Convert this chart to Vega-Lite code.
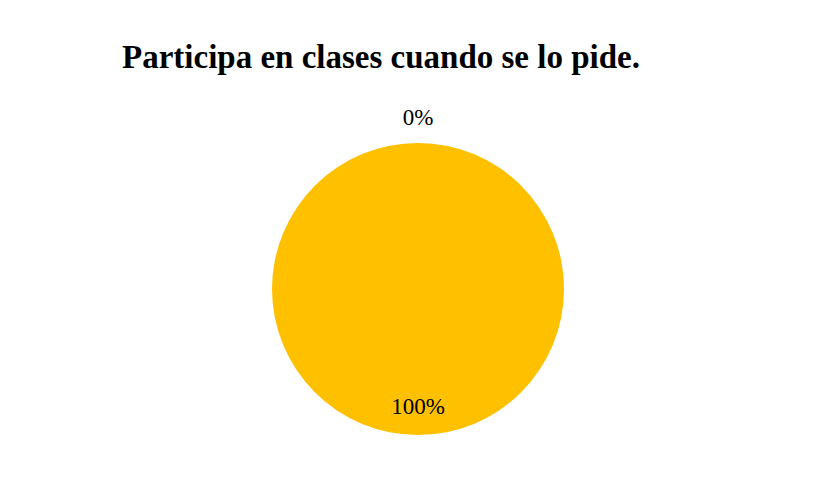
{
  "$schema": "https://vega.github.io/schema/vega-lite/v6.json",
  "width": 814,
  "height": 495,
  "autosize": {"type": "fit", "contains": "padding"},
  "padding": {"left": 22, "right": 0, "top": 42, "bottom": 7},
  "background": "white",
  "config": {"view": {"stroke": null}},
  "title": {
    "text": "Participa en clases cuando se lo pide.",
    "font": "Liberation Serif",
    "fontSize": 33,
    "fontWeight": "bold",
    "color": "black",
    "anchor": "middle",
    "dx": -37,
    "offset": 15
  },
  "data": {
    "values": [
      {"categoria": "No", "porcentaje": 0, "etiqueta": "0%"},
      {"categoria": "Sí", "porcentaje": 100, "etiqueta": "100%"}
    ]
  },
  "encoding": {
    "theta": {"field": "porcentaje", "type": "quantitative", "stack": true},
    "order": {"field": "categoria", "type": "nominal"}
  },
  "layer": [
    {
      "mark": {"type": "arc", "radius": 146, "color": "#FFC000"},
      "encoding": {}
    },
    {
      "transform": [{"filter": "datum.categoria === 'No'"}],
      "mark": {"type": "text", "radius": 171, "font": "Liberation Serif", "fontSize": 23, "color": "black"},
      "encoding": {"text": {"field": "etiqueta", "type": "nominal"}}
    },
    {
      "transform": [{"filter": "datum.categoria === 'Sí'"}],
      "mark": {"type": "text", "radius": 118, "font": "Liberation Serif", "fontSize": 23, "color": "black"},
      "encoding": {"text": {"field": "etiqueta", "type": "nominal"}}
    }
  ]
}
